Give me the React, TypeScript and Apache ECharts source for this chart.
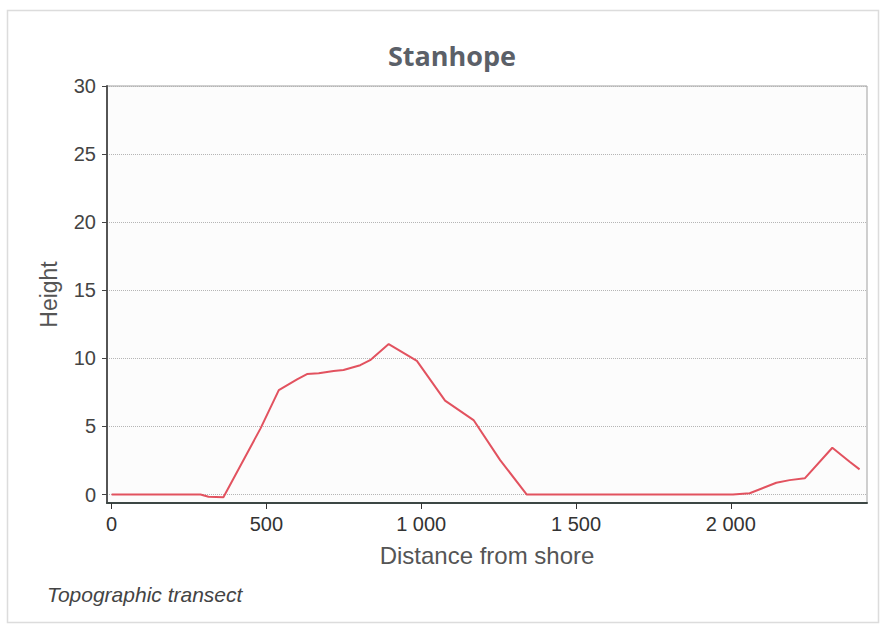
import React, { useEffect, useRef } from "react";
import * as echarts from "echarts";

const distances = [0, 287, 313, 361, 481, 540, 599, 631, 669, 717, 749, 803, 835, 895, 986, 1077, 1169, 1255, 1341, 2007, 2061, 2147, 2190, 2239, 2328, 2384, 2416];
const heights = [0, 0, -0.16, -0.2, 4.86, 7.67, 8.46, 8.85, 8.9, 9.07, 9.14, 9.5, 9.87, 11.05, 9.82, 6.9, 5.47, 2.53, 0, 0, 0.1, 0.87, 1.06, 1.19, 3.44, 2.41, 1.85];
const xTicks = [0, 500, 1000, 1500, 2000];
const yTicks = [0, 5, 10, 15, 20, 25, 30];
const titleText = "Stanhope";
const xName = "Distance from shore";
const yName = "Height";
const captionText = "Topographic transect";

const fmtX = (v: number) => {
  if (v >= 1000) {
    return `${Math.floor(v / 1000)} ${String(v % 1000).padStart(3, "0")}`;
  }
  return String(v);
};

export default function App() {
  const ref = useRef<HTMLDivElement>(null);
  useEffect(() => {
    if (!ref.current) return;
    const chart = echarts.init(ref.current, null, { renderer: "svg" });
    const font = "'Liberation Sans', Arial, sans-serif";
    chart.setOption({
      animation: false,
      backgroundColor: "#ffffff",
      title: {
        text: titleText,
        left: 447,
        top: 37,
        textAlign: "center",
        textStyle: {
          fontFamily: "'Open Sans', sans-serif",
          fontWeight: "bold",
          fontSize: 27,
          color: "#5b6068",
        },
      },
      grid: {
        left: 107,
        right: 13,
        top: 86,
        bottom: 126,
        show: true,
        backgroundColor: "#fcfcfc",
        borderColor: "#a0a0a0",
        borderWidth: 1,
      },
      xAxis: {
        type: "value",
        min: -15,
        max: 2440,
        name: xName,
        nameLocation: "middle",
        nameGap: 40,
        nameTextStyle: { fontFamily: font, fontSize: 24, color: "#555" },
        axisLine: { show: true, onZero: false, lineStyle: { color: "#3c4744", width: 2 } },
        axisTick: { show: true, length: 6, customValues: xTicks, lineStyle: { color: "#333" } },
        axisLabel: {
          customValues: xTicks,
          formatter: fmtX,
          margin: 11,
          fontFamily: font,
          fontSize: 20,
          color: "#333",
        },
        splitLine: { show: false },
      },
      yAxis: {
        type: "value",
        min: -0.62,
        max: 30,
        name: yName,
        nameLocation: "middle",
        nameGap: 47,
        nameTextStyle: { fontFamily: font, fontSize: 23, color: "#555" },
        axisLine: { show: true, onZero: false, lineStyle: { color: "#555", width: 2 } },
        axisTick: { show: true, length: 5, customValues: yTicks, lineStyle: { color: "#444" } },
        axisLabel: {
          customValues: yTicks,
          margin: 11,
          fontFamily: font,
          fontSize: 20,
          color: "#444",
        },
        splitLine: { show: true, lineStyle: { color: "#b5b5b5", type: "dotted", width: 1 } },
      },
      graphic: [
        {
          type: "rect",
          shape: { x: 7.5, y: 10.5, width: 871, height: 612 },
          style: { fill: "none", stroke: "#dcdcdc", lineWidth: 1.5 },
          silent: true,
          z: -1,
        },
        {
          type: "text",
          x: 47,
          y: 594,
          style: {
            text: captionText,
            fontFamily: font,
            fontStyle: "italic",
            fontSize: 21,
            fill: "#444",
            textVerticalAlign: "middle",
          },
        },
      ],
      series: [
        {
          type: "line",
          data: distances.map((d, i) => [d, heights[i]]),
          showSymbol: false,
          clip: false,
          lineStyle: { color: "#e2525f", width: 2 },
        },
      ],
    });
    return () => chart.dispose();
  }, []);
  return (
    <div
      ref={ref}
      style={{ position: "absolute", left: 0, top: 0, width: 880, height: 629 }}
    />
  );
}
